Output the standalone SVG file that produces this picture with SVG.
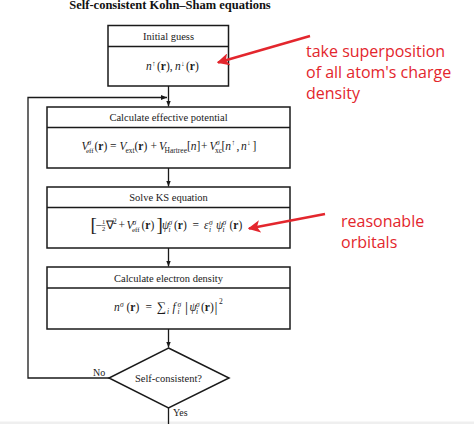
<svg xmlns="http://www.w3.org/2000/svg" width="474" height="424" viewBox="0 0 474 424">
<style>
.box{fill:#fff;stroke:#1a1a1a;stroke-width:1.5}
.ln{fill:none;stroke:#1a1a1a;stroke-width:1.3}
.lbl{font-family:"Liberation Serif","Times New Roman",serif;font-size:10.5px;fill:#1a1a1a;text-anchor:middle}
.m{font-family:"Liberation Serif","Times New Roman",serif;font-size:11.5px;fill:#1a1a1a}
.i{font-style:italic}
.b{font-weight:bold}
.s{font-size:7.5px}
.br{font-size:19px}
.ann{font-family:"Open Sans","Noto Sans",sans-serif;font-size:16px;fill:#e3262d}
.red{fill:none;stroke:#e3262d;stroke-width:2.5}
</style>
<defs>
<marker id="ah" viewBox="0 0 10 10" refX="10" refY="5" markerWidth="6" markerHeight="6" orient="auto" markerUnits="userSpaceOnUse">
<path d="M0,1 L10,5 L0,9 Z" fill="#1a1a1a"/>
</marker>
<marker id="rah" viewBox="0 0 10 10" refX="9" refY="5" markerWidth="5" markerHeight="5" orient="auto">
<path d="M0,0 L10,5 L0,10 L2.5,5 Z" fill="#e3262d"/>
</marker>
</defs>
<rect width="474" height="424" fill="#fff"/>
<rect x="0" y="421.5" width="474" height="2.5" fill="#efefef"/>

<text x="170" y="8.5" style="font-family:'Liberation Serif',serif;font-size:12.5px;font-weight:bold;fill:#111" text-anchor="middle">Self-consistent Kohn–Sham equations</text>

<g id="connectors">
<line class="ln" x1="168.5" y1="86" x2="168.5" y2="106.5" marker-end="url(#ah)"/>
<polyline class="ln" points="109,378 28,378 28,97.5 167,97.5" marker-end="url(#ah)"/>
<line class="ln" x1="168.5" y1="168" x2="168.5" y2="186.5" marker-end="url(#ah)"/>
<line class="ln" x1="168.5" y1="248" x2="168.5" y2="266.5" marker-end="url(#ah)"/>
<line class="ln" x1="168.5" y1="329" x2="168.5" y2="347.5" marker-end="url(#ah)"/>
<line class="ln" x1="168.5" y1="408" x2="168.5" y2="424"/>
<text x="93" y="375.5" class="m" style="font-size:10px">No</text>
<text x="173" y="416" class="m" style="font-size:10px">Yes</text>
</g>

<g id="initial-guess">
<rect class="box" x="108" y="25.5" width="120.5" height="60.5"/>
<line class="ln" x1="108" y1="46.5" x2="228.5" y2="46.5" style="stroke-width:1.5"/>
<text class="lbl" x="168.5" y="40">Initial guess</text>
<text class="m i" x="146" y="70">n</text>
<text class="m s" x="152" y="66">↑</text>
<text class="m" x="157" y="70">(<tspan class="b">r</tspan>),</text>
<text class="m i" x="175" y="70">n</text>
<text class="m s" x="181" y="66">↓</text>
<text class="m" x="186" y="70">(<tspan class="b">r</tspan>)</text>
</g>

<g id="effective-potential">
<rect class="box" x="47" y="107" width="243" height="61"/>
<line class="ln" x1="47" y1="127.5" x2="290" y2="127.5" style="stroke-width:1.5"/>
<text class="lbl" x="168.5" y="121">Calculate effective potential</text>
<text class="m i" x="81.5" y="149.5">V</text>
<text class="m s i" x="87.5" y="145">σ</text>
<text class="m s" x="86" y="152.5" style="font-size:7px">eff</text>
<text class="m" x="94.5" y="149.5">(<tspan class="b">r</tspan>)</text>
<text class="m" x="110" y="149.5">=</text>
<text class="m i" x="119.5" y="149.5">V</text>
<text class="m s" x="125.5" y="152.5">ext</text>
<text class="m" x="134.5" y="149.5">(<tspan class="b">r</tspan>)</text>
<text class="m" x="150.5" y="149.5">+</text>
<text class="m i" x="159" y="149.5">V</text>
<text class="m s" x="164.5" y="152.5">Hartree</text>
<text class="m" x="187" y="149.5">[<tspan class="i">n</tspan>]</text>
<text class="m" x="201" y="149.5">+</text>
<text class="m i" x="209.5" y="149.5">V</text>
<text class="m s i" x="216" y="145">σ</text>
<text class="m s" x="215" y="152.5">xc</text>
<text class="m" x="221.5" y="149.5">[<tspan class="i">n</tspan></text>
<text class="m s" x="231.5" y="145">↑</text>
<text class="m" x="236.5" y="149.5">,</text>
<text class="m i" x="241" y="149.5">n</text>
<text class="m s" x="247" y="145">↓</text>
<text class="m" x="252.5" y="149.5">]</text>
</g>

<g id="solve-ks">
<rect class="box" x="47" y="187" width="243" height="61"/>
<line class="ln" x1="47" y1="207.5" x2="290" y2="207.5" style="stroke-width:1.5"/>
<text class="lbl" x="168.5" y="201">Solve KS equation</text>
<text class="m br" x="90.5" y="231">[</text>
<text class="m" x="95.5" y="229">−</text>
<text class="m" x="103.5" y="223.5" style="font-size:6.5px" text-anchor="middle">1</text>
<line x1="101.5" y1="225.5" x2="105.5" y2="225.5" stroke="#1a1a1a" stroke-width="0.5"/>
<text class="m" x="103.5" y="231" style="font-size:6.5px" text-anchor="middle">2</text>
<text class="m" x="106.3" y="229">∇</text>
<text class="m s" x="113" y="224">2</text>
<text class="m" x="118.5" y="229">+</text>
<text class="m i" x="126.5" y="229">V</text>
<text class="m s i" x="132.5" y="224.5">σ</text>
<text class="m s" x="132" y="232" style="font-size:7px">eff</text>
<text class="m" x="141.5" y="229">(<tspan class="b">r</tspan>)</text>
<text class="m br" x="156.5" y="231">]</text>
<text class="m i" x="162" y="229">ψ</text>
<text class="m s i" x="168.5" y="224.5">σ</text>
<text class="m s i" x="168.5" y="232">i</text>
<text class="m" x="174" y="229">(<tspan class="b">r</tspan>)</text>
<text class="m" x="192.5" y="229">=</text>
<text class="m i" x="204" y="229">ε</text>
<text class="m s i" x="209" y="224.5">σ</text>
<text class="m s i" x="209" y="232">i</text>
<text class="m i" x="216" y="229">ψ</text>
<text class="m s i" x="222.5" y="224.5">σ</text>
<text class="m s i" x="222.5" y="232">i</text>
<text class="m" x="229.5" y="229">(<tspan class="b">r</tspan>)</text>
</g>

<g id="electron-density">
<rect class="box" x="47" y="267" width="243" height="62"/>
<line class="ln" x1="47" y1="288" x2="290" y2="288" style="stroke-width:1.5"/>
<text class="lbl" x="168.5" y="282">Calculate electron density</text>
<text class="m i" x="114" y="311">n</text>
<text class="m s i" x="120" y="306.5">σ</text>
<text class="m" x="126.5" y="311">(<tspan class="b">r</tspan>)</text>
<text class="m" x="145.5" y="311">=</text>
<text class="m" x="157" y="311" style="font-size:13px">∑</text>
<text class="m s i" x="167" y="313.5">i</text>
<text class="m i" x="172.5" y="311">f</text>
<text class="m s i" x="177.5" y="306.5">σ</text>
<text class="m s i" x="177.5" y="314">i</text>
<text class="m" x="185" y="312" style="font-size:15px">|</text>
<text class="m i" x="189.5" y="311">ψ</text>
<text class="m s i" x="196" y="306.5">σ</text>
<text class="m s i" x="196" y="314">i</text>
<text class="m" x="201" y="311">(<tspan class="b">r</tspan>)</text>
<text class="m" x="214.5" y="312" style="font-size:15px">|</text>
<text class="m s" x="219" y="303.5">2</text>
</g>

<g id="self-consistent">
<polygon class="box" points="168.5,348 229,378 168.5,408 109,378"/>
<text class="lbl" x="168.5" y="382">Self-consistent?</text>
</g>

<g id="annotations">
<line class="red" x1="310" y1="36" x2="218" y2="62.5" marker-end="url(#rah)"/>
<text class="ann" x="306" y="56.5">take superposition</text>
<text class="ann" x="306" y="77.5">of all atom's charge</text>
<text class="ann" x="306" y="98.5">density</text>
<line class="red" x1="325" y1="214" x2="249" y2="228.5" marker-end="url(#rah)"/>
<text class="ann" x="341" y="227">reasonable</text>
<text class="ann" x="341" y="248">orbitals</text>
</g>
</svg>
